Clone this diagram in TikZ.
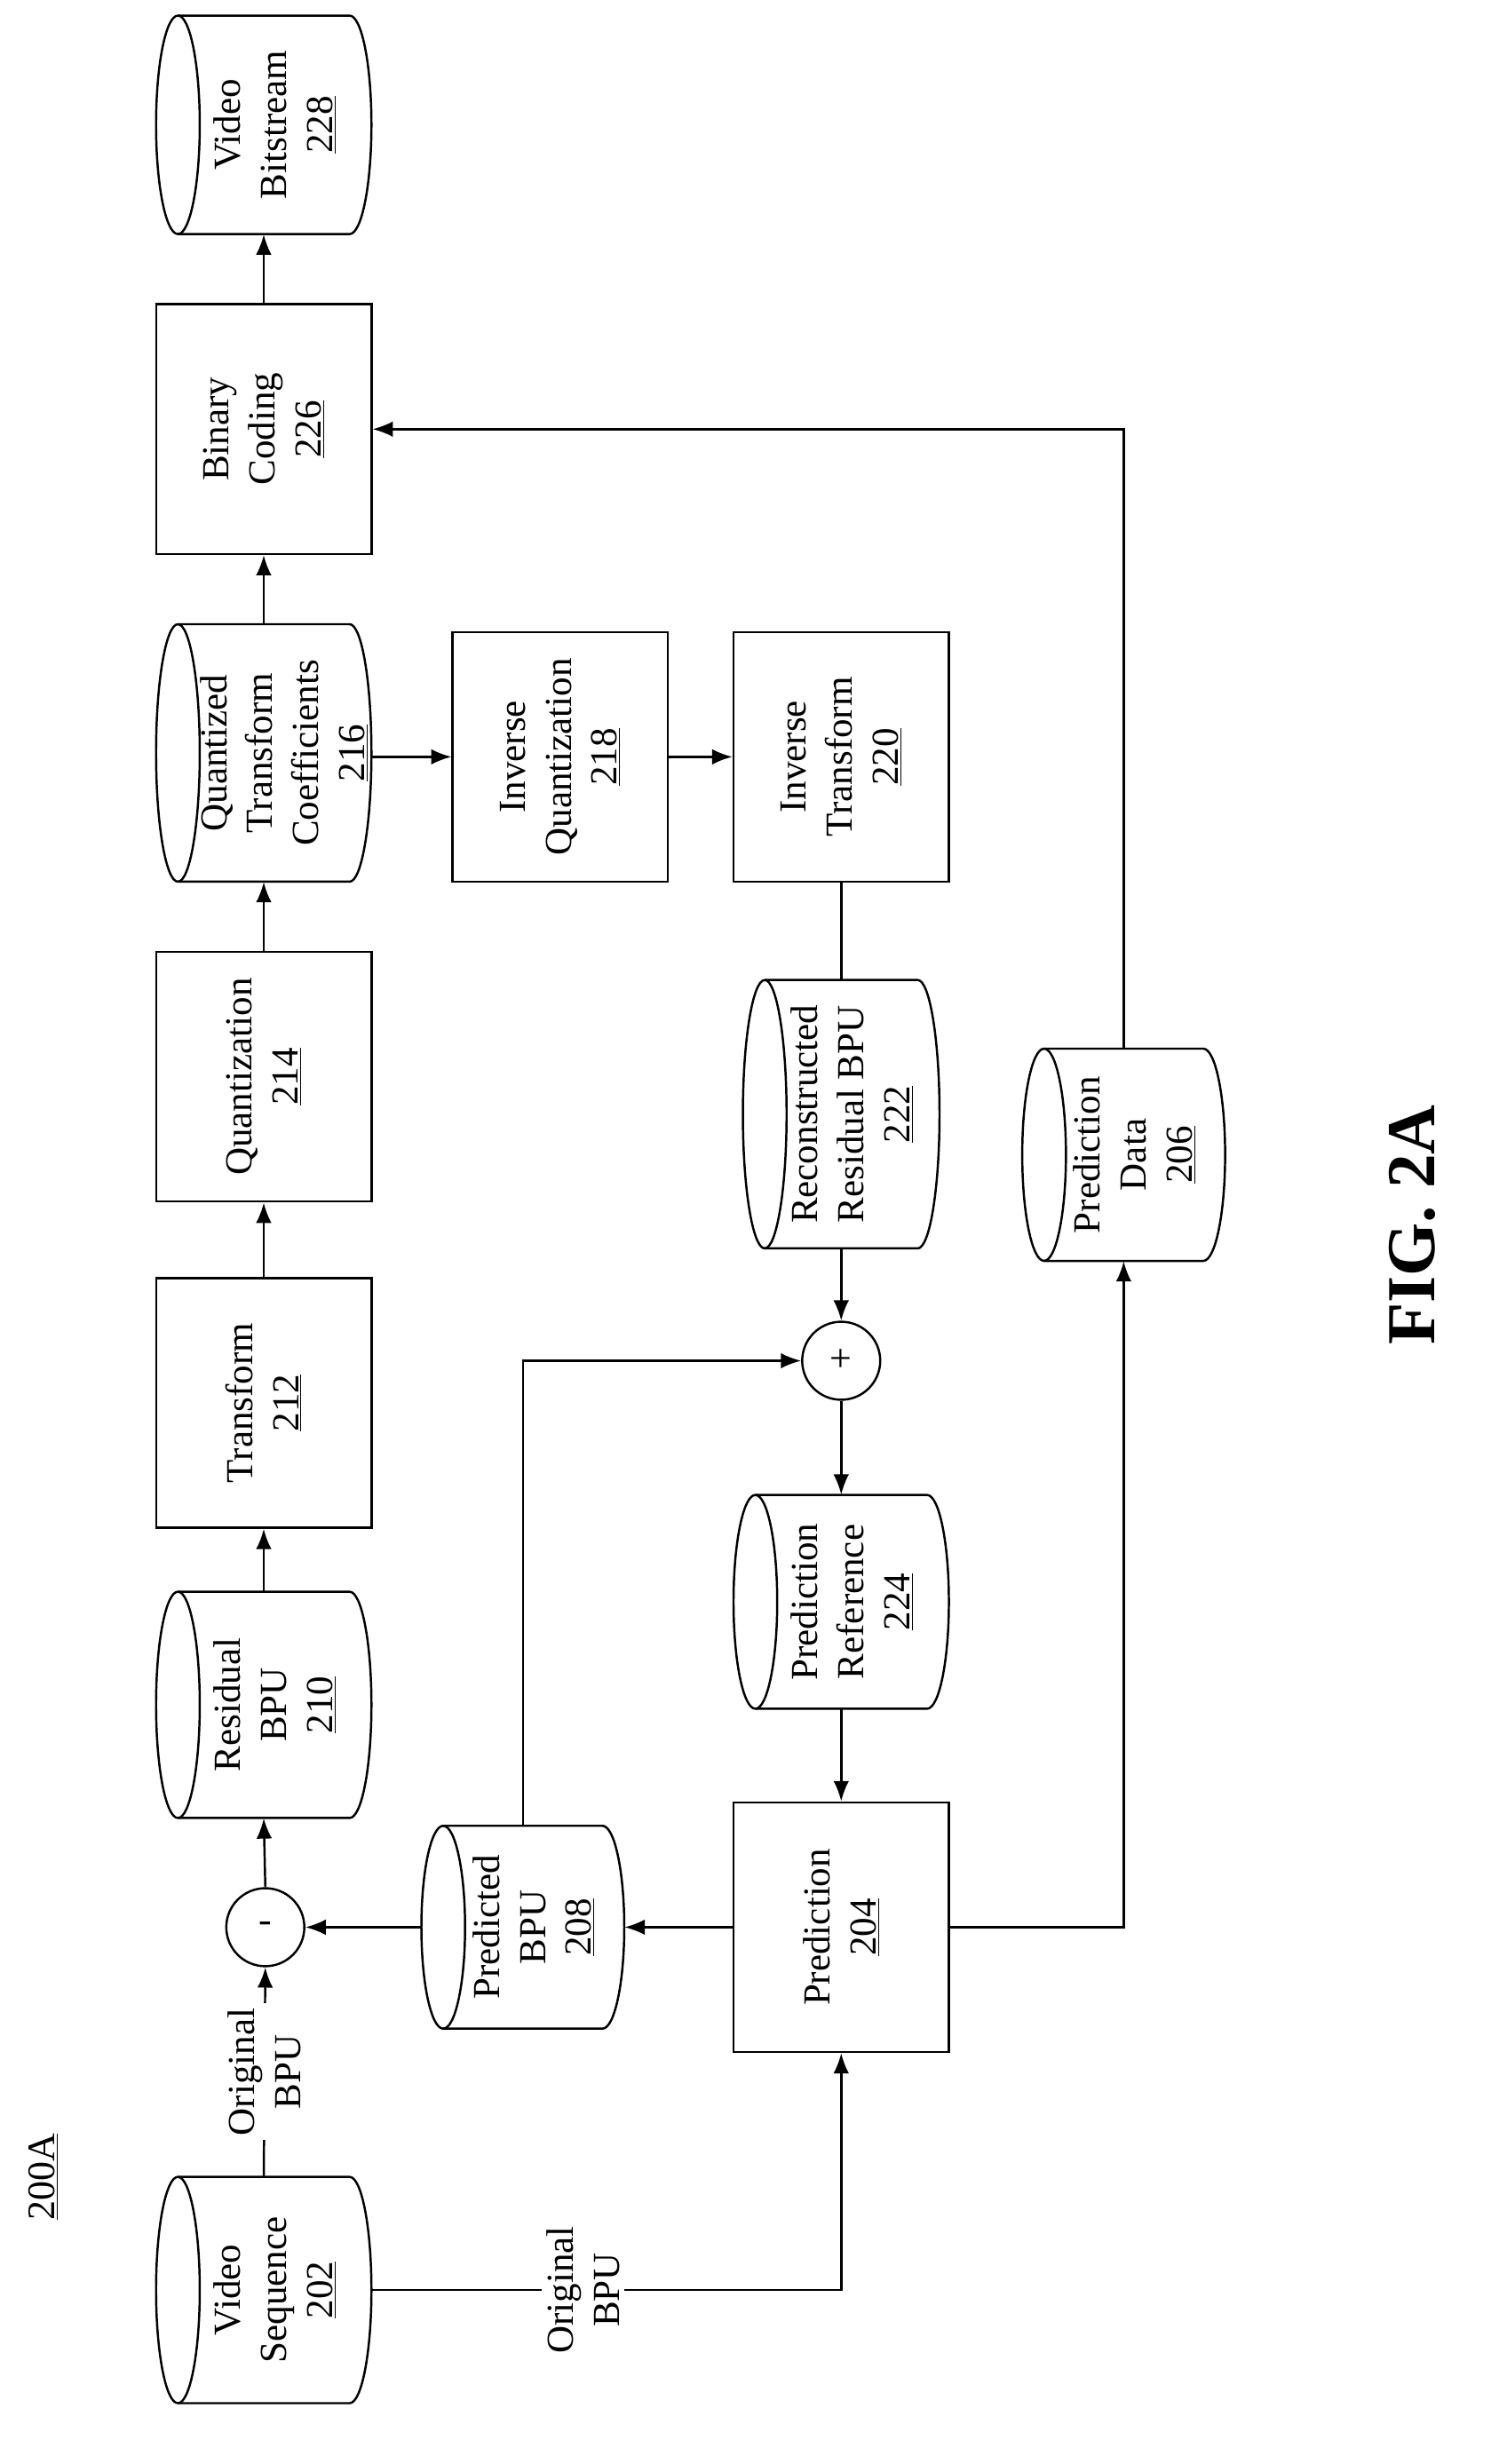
\documentclass[tikz,border=0pt]{standalone}
\usepackage{fontspec}
\setmainfont{Liberation Serif}
\usetikzlibrary{arrows.meta,calc}
\begin{document}
\begin{tikzpicture}[x=1pt,y=-1pt,
  ln/.style={line width=1.4pt},
  arr/.style={ln,-{Latex[length=13,width=10]}},
  box/.style={draw,ln,minimum width=138,minimum height=160,inner sep=0},
  txt/.style={rotate=90,align=center,font=\fontsize{24.5}{29.5}\selectfont,inner sep=1},
  lbl/.style={rotate=90,align=center,font=\fontsize{24.5}{29.5}\selectfont,fill=white,inner sep=3}]
\useasboundingbox (0,0) rectangle (960,1579);
\def\cyloff{7}
\newcommand\mycyl[6]{%
  \draw[ln] (#2+14,#3) -- (#4-14,#3) arc[start angle=-90,end angle=90,x radius=14,y radius={(#5-#3)/2}]
    -- (#2+14,#5) arc[start angle=90,end angle=270,x radius=14,y radius={(#5-#3)/2}];
  \draw[ln] (#2+14,#3) arc[start angle=-90,end angle=90,x radius=14,y radius={(#5-#3)/2}];
  \node[inner sep=0,minimum width={(#4-#2)*1pt},minimum height={(#5-#3)*1pt}] (#1) at ({(#2+#4)/2},{(#3+#5)/2}) {};
  \node[txt] at ($(#1)+(\cyloff,0)$) {#6};}
\mycyl{vb}{100}{10}{238}{150}{Video\\Bitstream\\\underline{228}}
\node[box] (bin) at (169,275) {}; \node[txt] at (bin) {Binary\\Coding\\\underline{226}};
\def\cyloff{13}
\mycyl{qtc}{100}{400}{238}{565}{Quantized\\Transform\\Coefficients\\\underline{216}}
\def\cyloff{7}
\node[box] (quant) at (169,690) {}; \node[txt] at (quant) {Quantization\\\underline{214}};
\node[box] (trans) at (169,899) {}; \node[txt] at (trans) {Transform\\\underline{212}};
\mycyl{res}{100}{1020}{238}{1165}{Residual\\BPU\\\underline{210}}
\node[circle,draw,ln,minimum size=50,inner sep=0,font=\fontsize{25}{31}\selectfont] (minus) at (170,1235) {-};
\mycyl{vs}{100}{1395}{238}{1540}{Video\\Sequence\\\underline{202}}
\node[box] (iq) at (359,485) {}; \node[txt] at (iq) {Inverse\\Quantization\\\underline{218}};
\node[box] (it) at (539,485) {}; \node[txt] at (it) {Inverse\\Transform\\\underline{220}};
\mycyl{rr}{476}{628}{602}{800}{Reconstructed\\Residual BPU\\\underline{222}}
\node[circle,draw,ln,minimum size=50,inner sep=0,font=\fontsize{25}{31}\selectfont] (plus) at (539,872) {+};
\mycyl{pr}{470}{958}{608}{1095}{Prediction\\Reference\\\underline{224}}
\node[box] (pred) at (539,1235) {}; \node[txt] at (pred) {Prediction\\\underline{204}};
\mycyl{pb}{270}{1170}{400}{1300}{Predicted\\BPU\\\underline{208}}
\mycyl{pd}{655}{672}{785}{808}{Prediction\\Data\\\underline{206}}
\node[rotate=90,font=\fontsize{25}{31}\selectfont] (lab) at (28,1395) {\underline{200A}};
\node[rotate=90,font=\bfseries\fontsize{44}{50}\selectfont] (fig) at (905,785) {FIG. 2A};
\draw[arr] (bin.north) -- (vb.south);
\draw[arr] (qtc.north) -- (bin.south);
\draw[arr] (quant.north) -- (qtc.south);
\draw[arr] (trans.north) -- (quant.south);
\draw[arr] (res.north) -- (trans.south);
\draw[arr] (minus.north) -- (res.south);
\draw[arr] (vs.north) -- node[lbl]{Original\\BPU} (minus.south);
\draw[arr] (vs.east) -- node[lbl,pos=0.45]{Original\\BPU} (vs.east -| pred.south) -- (pred.south);
\draw[arr] (qtc.east |- iq.west) -- (iq.west);
\draw[arr] (iq.east) -- (it.west);
\draw[ln] (it.south) -- (rr.north);
\draw[arr] (rr.south) -- (plus.north);
\draw[arr] (plus.south) -- (pr.north);
\draw[arr] (pr.south) -- (pred.north);
\draw[arr] (pred.west) -- (pb.east);
\draw[arr] (pb.west) -- (minus.east);
\draw[arr] (pb.north) |- (plus.west);
\draw[arr] (pred.east) -| (pd.south);
\draw[arr] (pd.north) |- (bin.east);
\end{tikzpicture}
\end{document}
